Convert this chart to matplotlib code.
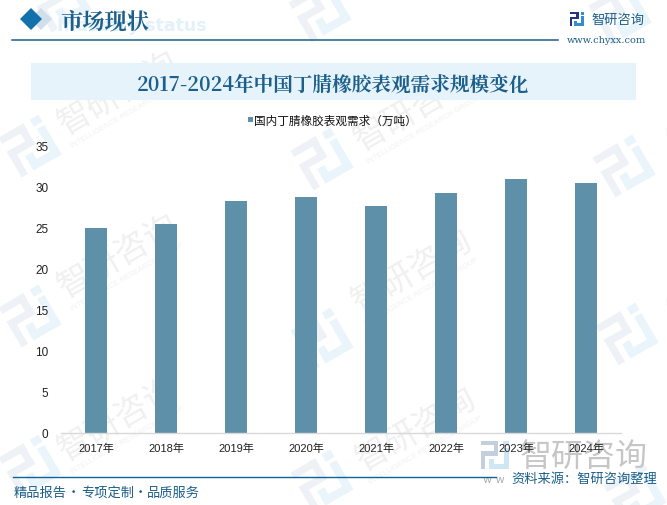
import matplotlib
matplotlib.use("Agg")
import matplotlib.pyplot as plt
from matplotlib.patches import Polygon, Rectangle
from matplotlib.transforms import Affine2D

plt.rcParams["font.family"] = ["Noto Sans CJK SC", "DejaVu Sans"]

SERIF = ["Noto Serif CJK SC", "Noto Sans CJK SC", "DejaVu Sans"]
LATIN = ["Liberation Sans", "Noto Sans CJK SC"]
W, H = 667, 506

years = ["2017年", "2018年", "2019年", "2020年", "2021年", "2022年", "2023年", "2024年"]
demand = [25.0, 25.4, 28.2, 28.7, 27.6, 29.2, 30.9, 30.4]
y_ticks = [0, 5, 10, 15, 20, 25, 30, 35]

page_title = "市场现状"
chart_title = "2017-2024年中国丁腈橡胶表观需求规模变化"
legend_label = "国内丁腈橡胶表观需求（万吨）"
source = "资料来源：智研咨询整理"
footer_parts = ["精品报告", "专项定制", "品质服务"]
company = "智研咨询"

BAR = "#5e91a9"
NAVY = "#1b5f8a"
LINE = "#0f6496"

# logo pieces on a unit square, y pointing down: x, y, w, h
LOGO_DARK = [(0, 0, 0.62, 0.16), (0.46, 0, 0.16, 0.5), (0, 0.36, 0.62, 0.16), (0, 0.36, 0.16, 0.64)]
LOGO_LIGHT = [(0.78, 0, 0.22, 0.18), (0.82, 0.26, 0.18, 0.74), (0.3, 0.82, 0.7, 0.18), (0.3, 0.64, 0.18, 0.3)]


def draw_logo(ax, x, y, size, dark, light, angle=0.0):
    tr = Affine2D().translate(-0.5, -0.5).scale(size).rotate_deg(-angle).translate(x, y) + ax.transData
    for pieces, colour in [(LOGO_DARK, dark), (LOGO_LIGHT, light)]:
        for px, py, pw, ph in pieces:
            ax.add_patch(Rectangle((px, py), pw, ph, color=colour, lw=0, transform=tr, zorder=0))


def watermark_text(ax, x, y):
    ax.text(x, y, company, fontsize=24, color="#f0f0f0", rotation=30, rotation_mode="anchor",
            ha="center", va="center", zorder=0)
    ax.text(x + 10, y + 20, "INTELLIGENCE RESEARCH GROUP", fontsize=5.5, color="#f1f1f1",
            rotation=30, rotation_mode="anchor", ha="center", va="center", zorder=0,
            family="Liberation Sans")


fig = plt.figure(figsize=(W / 100, H / 100), dpi=100, facecolor="white")

# page layer in pixel coordinates, origin at top left
bg = fig.add_axes([0, 0, 1, 1], zorder=0)
bg.set_xlim(0, W)
bg.set_ylim(H, 0)
bg.axis("off")

for lx, ly in [(30, 147), (322, 160), (624, 167), (30, 317), (322, 340), (627, 335),
               (30, 467), (322, 482), (635, 495), (320, 12), (620, 15), (60, 2)]:
    draw_logo(bg, lx, ly, 46, "#eef1f6", "#eaf5fb", angle=30)
for tx, ty in [(118, 94), (414, 110), (118, 257), (412, 272), (118, 420), (416, 430)]:
    watermark_text(bg, tx, ty)
for tx, ty in [(700, 130), (700, 300)]:
    bg.text(tx, ty, company[:2], fontsize=24, color="#f0f0f0", rotation=30, rotation_mode="anchor",
            ha="center", va="center", zorder=0, clip_on=True)

# header
bg.add_patch(Polygon([(30, 20), (41, 9), (52, 20), (41, 31)], color="#cfe0ec", lw=0))
bg.add_patch(Polygon([(20, 20), (31, 9), (42, 20), (31, 31)], color="#1270aa", lw=0))
bg.text(132, 26, "Industry status", fontsize=12.5, color="#e3f1fa", fontweight="bold",
        ha="center", va="center", family="DejaVu Sans")
bg.text(60, 22, page_title, fontsize=16, color=NAVY, fontweight="bold", va="center", family=SERIF)
bg.plot([12, 558], [41, 41], color=NAVY, lw=1.1)

# company logo, top right
draw_logo(bg, 577, 20, 14, "#27337f", "#2f8fd0")
bg.text(591, 20, company, fontsize=9.5, color=NAVY, va="center")
bg.text(567, 40, "www.chyxx.com", fontsize=7, color=NAVY, va="center", family="DejaVu Serif")

# title band
bg.add_patch(Rectangle((31, 64), 605, 37, color="#e6f3fb", lw=0))
bg.text(333, 85, chart_title, fontsize=14.1, color=NAVY, fontweight="bold",
        ha="center", va="center", family=SERIF)

# big grey logo behind the source line
draw_logo(bg, 495, 456, 28, "#c3cfdd", "#cfe6f5")
bg.text(583.5, 457, company, fontsize=23, color="#c6c6c6", ha="center", va="center")
bg.text(494, 480, "w w", fontsize=8, color="#b0b0b0", ha="center", va="center", family="DejaVu Sans")

# footer
bg.plot([13, 496], [478, 478], color=LINE, lw=1.0, zorder=3)
bg.text(511, 479, source, fontsize=9.5, color=NAVY, va="center", zorder=4)
for fx, part in zip([14, 81, 147], footer_parts):
    bg.text(fx, 493, part, fontsize=9.5, color=NAVY, va="center", zorder=4)
for fx in [73, 140]:
    bg.text(fx, 493, "·", fontsize=9.5, color=NAVY, ha="center", va="center", zorder=4)

# chart
left, right, top, bottom = 61, 621, 146.5, 433.5
ax = fig.add_axes([left / W, 1 - bottom / H, (right - left) / W, (bottom - top) / H], zorder=2)
ax.patch.set_alpha(0)
ax.bar(range(len(years)), demand, width=0.315, color=BAR, label=legend_label)
ax.set_xlim(-0.5, len(years) - 0.5)
ax.set_ylim(0, 35)
ax.set_yticks(y_ticks)
ax.set_xticks(range(len(years)), years)
ax.tick_params(axis="both", length=0, labelcolor="#222222")
ax.tick_params(axis="x", pad=7, labelsize=8, labelfontfamily=LATIN[0])
ax.tick_params(axis="y", pad=9, labelsize=8.5, labelfontfamily=LATIN[0])
for lab in ax.get_xticklabels():
    lab.set_family(LATIN)
for side in ["top", "right", "left"]:
    ax.spines[side].set_visible(False)
ax.spines["bottom"].set_color("#d9d9d9")
ax.spines["bottom"].set_linewidth(1.0)

bg.add_patch(Rectangle((248, 118), 5, 5, color=BAR, lw=0))
bg.text(254, 121.5, legend_label, fontsize=8.4, color="#111111", va="center")

fig.savefig("out.png", dpi=100)
